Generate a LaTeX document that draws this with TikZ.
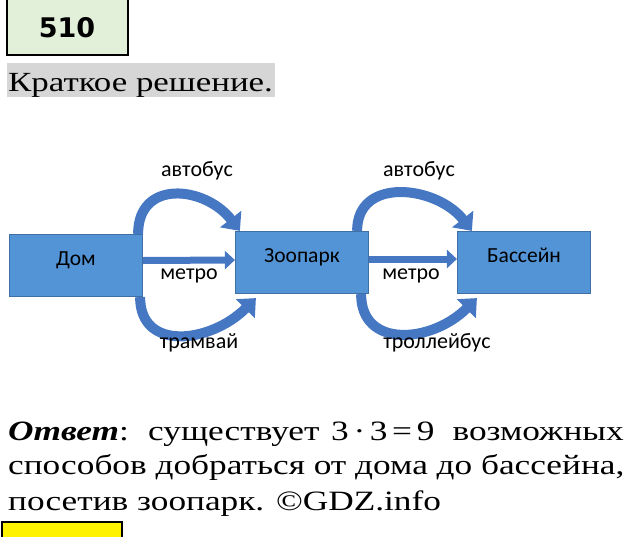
\documentclass[tikz,border=0pt]{standalone}
\usepackage{fontspec}
\setmainfont[FakeStretch=1.26]{Liberation Serif}
\newfontfamily\calibri{Carlito}
\newfontfamily\numfont{DejaVu Sans}
\usepackage{xcolor}
\usetikzlibrary{arrows.meta}
\usetikzlibrary{positioning}

\definecolor{boxblue}{HTML}{5294D6}
\definecolor{boxedge}{HTML}{3F6FA3}
\definecolor{arrblue}{HTML}{4677C2}
\definecolor{numgreen}{HTML}{E2EFD9}
\definecolor{hlgray}{HTML}{D6D6D6}

\tikzset{
  place/.style={draw=boxedge, line width=1.2pt, fill=boxblue, minimum width=133pt, minimum height=62pt,
    text height=15pt, text depth=15pt, font=\calibri\fontsize{21.5}{24}\selectfont},
  way/.style={anchor=base, font=\calibri\fontsize{22}{24}\selectfont},
  loop arrow/.style={draw=arrblue, line width=10pt, -{Triangle[width=26pt,length=15pt]}},
  flat/.style={draw=arrblue, line width=7pt, -{Triangle[width=18pt,length=10pt]}},
  answer/.style={anchor=base west, inner sep=0pt, font=\fontsize{28}{32}\selectfont},
}

\begin{document}
\begin{tikzpicture}[x=1pt, y=-1pt]
  \useasboundingbox (0,0) rectangle (626,536);
  % header
  \draw[fill=numgreen, line width=1.6pt] (7,-2) rectangle (128,55);
  \node at(67, 28) (num){\numfont\bfseries\fontsize{27}{30}\selectfont 510};
  \fill[hlgray] (7,63) rectangle (275,97);
  \node[anchor=base west, inner sep=0pt] at(8, 91) (title){\fontsize{27.7}{30}\selectfont Краткое решение.};

  % places
  \node[place] at(76, 265.5) (dom){Дом};
  \node[place] at(302, 262.5) (zoo){Зоопарк};
  \node[place] at(524, 262.5) (bas){Бассейн};

  % dom -> zoo
  \draw[flat] ([yshift=5pt]dom.east) -- ([yshift=2.5pt]zoo.west);
  \draw[loop arrow] ([xshift=-5pt]dom.north east) .. controls +(0,-55) and +(-35,-45) .. ([xshift=5pt]zoo.north west);
  \draw[loop arrow] ([xshift=-3pt]dom.south east) .. controls +(0,55) and +(-45,45) .. ([xshift=21pt,yshift=-4pt]zoo.south west);
  \node[way] at(197, 176) (bus1){автобус};
  \node[way] at(189, 279) (metro1){метро};
  \node[way] at(199, 348) (tram){трамвай};

  % zoo -> bas
  \draw[flat] ([yshift=3.5pt]zoo.east) -- ([yshift=3.5pt]bas.west);
  \draw[loop arrow] ([xshift=-12pt]zoo.north east) .. controls +(0,-55) and +(-35,-45) .. ([xshift=15pt]bas.north west);
  \draw[loop arrow] ([xshift=-8pt]zoo.south east) .. controls +(0,55) and +(-45,45) .. ([xshift=20pt,yshift=-4pt]bas.south west);
  \node[way] at(419, 176) (bus2){автобус};
  \node[way] at(411, 279) (metro2){метро};
  \node[way] at(437, 348) (troll){троллейбус};

  % answer
  \node[answer] at(8, 440) (ans){\textbf{\textit{Ответ}}:};
  \node[answer] at(148, 440) (w1){существует};
  \node[answer] at(331, 440) (w2){3\,·\,3\,=\,9};
  \node[answer, anchor=base east] at(624, 440) (w3){возможных};
  \node[answer] at(8, 474) (line2){способов добраться от дома до бассейна,};
  \node[answer] at(8, 510) (line3){посетив зоопарк. ©GDZ.info};
  \draw[fill=yellow, line width=1.6pt] (2,522) rectangle (122,540);
\end{tikzpicture}
\end{document}
